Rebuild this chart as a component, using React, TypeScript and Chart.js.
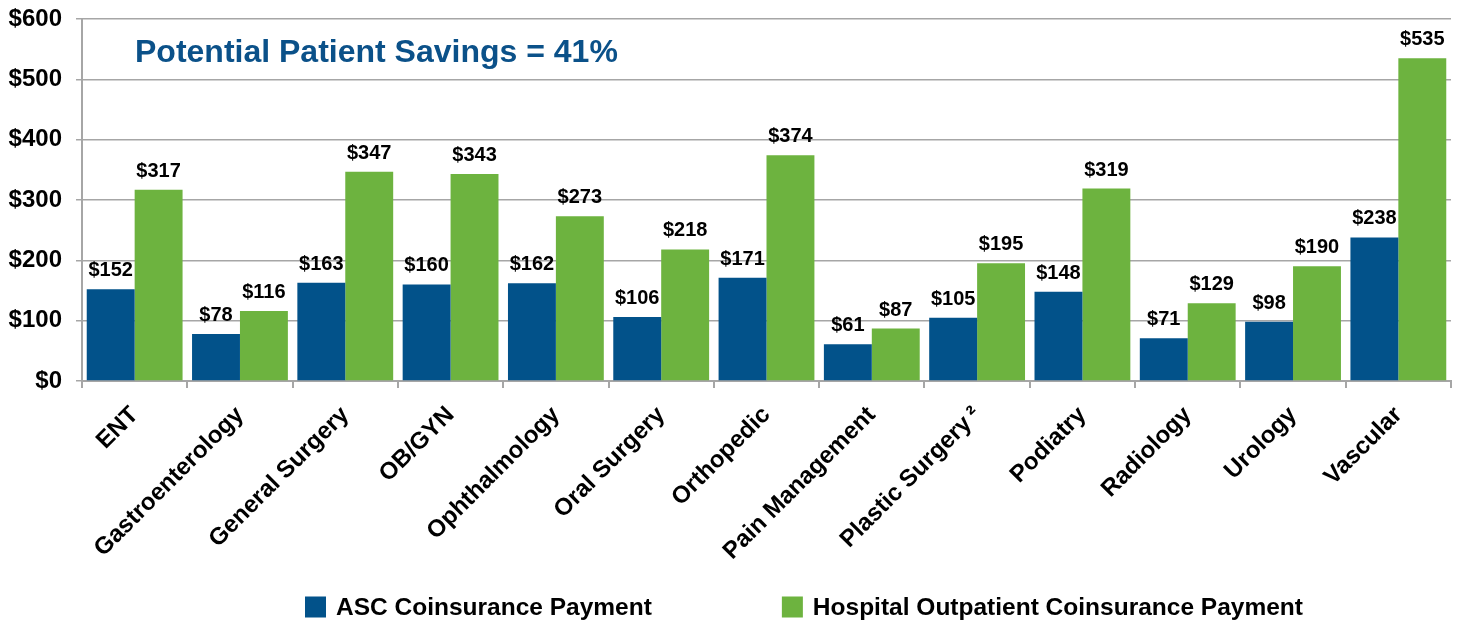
import React, { useEffect, useRef } from "react";
import { Chart, registerables } from "chart.js";

Chart.register(...registerables);

const categories = [
  "ENT",
  "Gastroenterology",
  "General Surgery",
  "OB/GYN",
  "Ophthalmology",
  "Oral Surgery",
  "Orthopedic",
  "Pain Management",
  "Plastic Surgery\u2009²",
  "Podiatry",
  "Radiology",
  "Urology",
  "Vascular",
];
const ascPayments = [152, 78, 163, 160, 162, 106, 171, 61, 105, 148, 71, 98, 238];
const hopdPayments = [317, 116, 347, 343, 273, 218, 374, 87, 195, 319, 129, 190, 535];
const seriesNames = ["ASC Coinsurance Payment", "Hospital Outpatient Coinsurance Payment"];
const titleText = "Potential Patient Savings = 41%";

const FONT = '"Liberation Sans", Arial, Helvetica, sans-serif';
const BLUE = "#02528A";
const GREEN = "#6DB33F";
const TITLE_BLUE = "#0B5189";
const GRID = "#A6A6A6";

const overlayPlugin = {
  id: "overlay",
  afterDatasetsDraw(chart: any) {
    const ctx = chart.ctx;
    const area = chart.chartArea;
    ctx.save();
    // value labels
    ctx.font = `bold 20px ${FONT}`;
    ctx.fillStyle = "#000";
    ctx.textAlign = "center";
    ctx.textBaseline = "alphabetic";
    chart.data.datasets.forEach((ds: any, di: number) => {
      const meta = chart.getDatasetMeta(di);
      meta.data.forEach((bar: any, i: number) => {
        ctx.fillText("$" + ds.data[i], bar.x, bar.y - 13);
      });
    });
    // title
    ctx.font = `bold 32px ${FONT}`;
    ctx.fillStyle = TITLE_BLUE;
    ctx.textAlign = "left";
    ctx.fillText(titleText, area.left + 53, area.top + 43);
    // legend
    ctx.font = `bold 24.5px ${FONT}`;
    ctx.textBaseline = "middle";
    const box = 21;
    const gapText = 10;
    const gapItems = 130;
    const widths = seriesNames.map((t) => ctx.measureText(t).width);
    let x = area.left + 223;
    const cy = area.bottom + 226;
    chart.data.datasets.forEach((ds: any, di: number) => {
      ctx.fillStyle = ds.backgroundColor;
      ctx.fillRect(x, cy - box / 2, box, box);
      ctx.fillStyle = "#000";
      ctx.fillText(seriesNames[di], x + box + gapText, cy + 1);
      x += box + gapText + widths[di] + gapItems;
    });
    ctx.restore();
  },
};

export default function App() {
  const ref = useRef<HTMLCanvasElement | null>(null);

  useEffect(() => {
    if (!ref.current) return;
    const chart = new Chart(ref.current, {
      type: "bar",
      data: {
        labels: categories,
        datasets: [
          {
            label: seriesNames[0],
            data: ascPayments,
            backgroundColor: BLUE,
            borderWidth: 0,
            barPercentage: 1.0,
            categoryPercentage: 0.91,
          },
          {
            label: seriesNames[1],
            data: hopdPayments,
            backgroundColor: GREEN,
            borderWidth: 0,
            barPercentage: 1.0,
            categoryPercentage: 0.91,
          },
        ],
      },
      options: {
        responsive: false,
        animation: false,
        layout: { padding: { top: 11, right: 3, left: 0, bottom: 0 } },
        plugins: {
          legend: { display: false },
          tooltip: { enabled: false },
          title: { display: false },
        },
        scales: {
          x: {
            grid: {
              display: true,
              drawOnChartArea: false,
              drawTicks: true,
              tickLength: 7,
              color: GRID,
              lineWidth: 2,
              offset: true,
            },
            border: { display: true, color: GRID, width: 2 },
            ticks: {
              autoSkip: false,
              maxRotation: 45,
              minRotation: 45,
              padding: 13,
              color: "#000",
              font: { family: FONT, size: 24, weight: "bold" },
            },
            afterFit: (scale: any) => {
              scale.height = 241;
              scale.paddingLeft = 0;
              scale.paddingRight = 0;
            },
          },
          y: {
            min: 0,
            max: 600,
            ticks: {
              stepSize: 100,
              padding: 14,
              color: "#000",
              font: { family: FONT, size: 24, weight: "bold" },
              callback: (v: any) => "$" + v,
            },
            grid: {
              color: GRID,
              lineWidth: 1.5,
              tickLength: 6,
              drawTicks: true,
            },
            border: { display: true, color: GRID, width: 2 },
            afterFit: (scale: any) => {
              scale.width = 74;
              scale.paddingTop = 0;
              scale.paddingBottom = 0;
            },
          },
        },
      },
      plugins: [overlayPlugin],
    });
    return () => chart.destroy();
  }, []);

  return (
    <div style={{ width: 1446, height: 614 }}>
      <canvas ref={ref} width={1446} height={614} style={{ display: "block" }} />
    </div>
  );
}
